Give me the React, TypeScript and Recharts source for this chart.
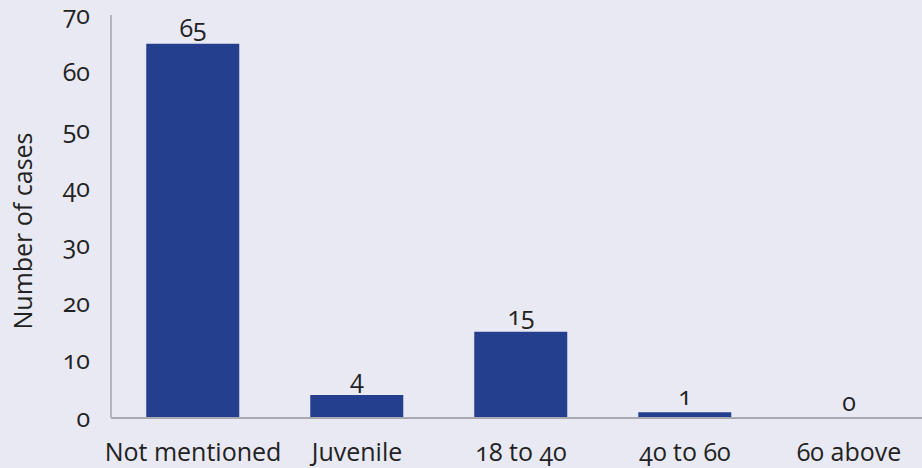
import React from "react";
import { ComposedChart, Bar, Line, XAxis, YAxis, LabelList } from "recharts";

const categories = ["Not mentioned", "Juvenile", "18 to 40", "40 to 60", "60 above"];
const cases = [65, 4, 15, 1, 0];
const yTicks = [0, 10, 20, 30, 40, 50, 60, 70];

const data = categories.map((c, i) => ({ name: c, value: cases[i] }));

const FONT = "'Open Sans', Lato, sans-serif";
const textStyle: React.CSSProperties = { fontVariantNumeric: "oldstyle-nums", fontFeatureSettings: "'onum' 1" };

const YLabel = () => (
  <text
    x={22}
    y={231}
    transform="rotate(-90, 22, 231)"
    textAnchor="middle"
    dominantBaseline="central"
    fontFamily={FONT}
    fontSize={25}
    fill="#222"
  >
    Number of cases
  </text>
);

export default function App() {
  return (
    <div style={{ position: "absolute", left: 0, top: 0, width: 922, height: 468, background: "#e9e9f3", overflow: "hidden" }}>
      <ComposedChart
        width={931}
        height={468}
        data={data}
        margin={{ top: 15, right: 0, bottom: 0, left: 0 }}
        barCategoryGap="21.5%"
        style={{ fontFamily: FONT, ...textStyle }}
      >
        <XAxis
          dataKey="name"
          height={50}
          tickLine={false}
          axisLine={{ stroke: "#a9a9b3", strokeWidth: 2 }}
          tick={{ fill: "#222", fontSize: 25, fontFamily: FONT, style: textStyle }}
          tickMargin={19}
          interval={0}
        />
        <YAxis
          width={111}
          domain={[0, 70]}
          ticks={yTicks}
          tickLine={false}
          axisLine={{ stroke: "#b5b5bf", strokeWidth: 2 }}
          tick={{ fill: "#222", fontSize: 25, fontFamily: FONT, style: textStyle }}
          tickMargin={15}
          label={<YLabel />}
        />
        <Bar dataKey="value" fill="#253f8f" isAnimationActive={false} />
        <Line
          dataKey="value"
          stroke="none"
          dot={false}
          activeDot={false}
          legendType="none"
          isAnimationActive={false}
        >
          <LabelList
            dataKey="value"
            position="top"
            offset={7}
            fill="#222"
            fontSize={25}
            fontFamily={FONT}
            style={textStyle}
          />
        </Line>
      </ComposedChart>
    </div>
  );
}
